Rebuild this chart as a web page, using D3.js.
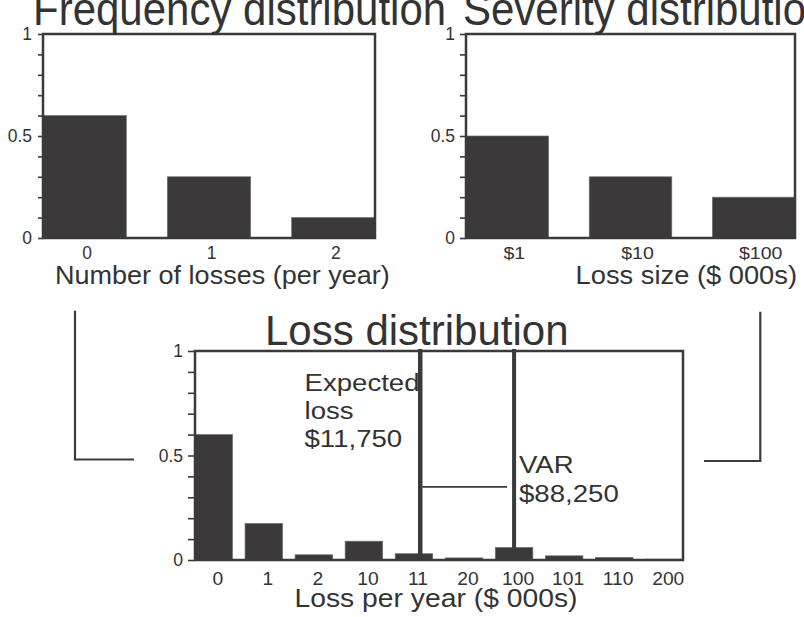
<!DOCTYPE html>
<html>
<head>
<meta charset="utf-8">
<script src="https://cdn.jsdelivr.net/npm/d3@7"></script>
<style>
  html, body { margin: 0; padding: 0; background: #fff; }
  svg { display: block; }
  text { font-family: "Liberation Sans", Arial, Helvetica, sans-serif; fill: #333; }
</style>
</head>
<body>
<svg id="chart" width="804" height="617"></svg>
<script>
// ---- data ----
const freqCats = ["0", "1", "2"];
const freqVals = [0.6, 0.3, 0.1];
const sevCats = ["$1", "$10", "$100"];
const sevVals = [0.5, 0.3, 0.2];
const lossCats = ["0", "1", "2", "10", "11", "20", "100", "101", "110", "200"];
const lossVals = [0.6, 0.175, 0.025, 0.09, 0.03, 0.01, 0.06, 0.02, 0.012, 0.004];
const yTickValues = [0, 0.1, 0.2, 0.3, 0.4, 0.5, 0.6, 0.7, 0.8, 0.9, 1];
const yTickLabels = {0: "0", 0.5: "0.5", 1: "1"};
const titles = ["Frequency distribution", "Severity distribution", "Loss distribution"];
const xTitles = ["Number of losses (per year)", "Loss size ($ 000s)", "Loss per year ($ 000s)"];
const expectedLabel = ["Expected", "loss", "$11,750"];
const varLabel = ["VAR", "$88,250"];
const expectedCat = "11";
const varCat = "100";

const INK = "#3a3a3a";
const BAR = "#3b393a";
const svg = d3.select("#chart");

function label(x, y, str, size, sx, anchor, sy) {
  return svg.append("text")
    .attr("transform", `translate(${x},${y}) scale(${sx},${sy || 1})`)
    .attr("text-anchor", anchor || "start")
    .style("font-size", size + "px")
    .text(str);
}

function panel(cfg) {
  const x = d3.scaleBand().domain(cfg.cats).range([cfg.left, cfg.right])
    .paddingInner(cfg.pad).paddingOuter(0);
  const y = d3.scaleLinear().domain([0, 1]).range([cfg.bottom, cfg.top]);

  // bars
  svg.append("g").selectAll("rect").data(cfg.vals).join("rect")
    .attr("x", (d, i) => x(cfg.cats[i]))
    .attr("y", d => y(d))
    .attr("width", x.bandwidth())
    .attr("height", d => y(0) - y(d))
    .attr("fill", BAR)
    .attr("stroke", "#6e6e6e")
    .attr("stroke-width", 0.7);

  // y axis
  const ax = svg.append("g")
    .attr("transform", `translate(${cfg.left},0)`)
    .call(d3.axisLeft(y).tickValues(yTickValues)
      .tickSize(cfg.tick).tickPadding(cfg.tickPad)
      .tickFormat(d => yTickLabels[d] !== undefined ? yTickLabels[d] : ""));
  ax.select(".domain").remove();
  ax.selectAll(".tick line").attr("stroke", INK).attr("stroke-width", 1.6);
  ax.selectAll(".tick text").attr("fill", "#333")
    .style("font-size", "17.5px")
    .style("font-family", '"Liberation Sans", Arial, Helvetica, sans-serif');

  // frame
  svg.append("rect")
    .attr("x", cfg.left).attr("y", cfg.top)
    .attr("width", cfg.right - cfg.left).attr("height", cfg.bottom - cfg.top)
    .attr("fill", "none").attr("stroke", INK).attr("stroke-width", 2.5);

  // x tick labels
  cfg.cats.forEach(c => {
    label(x(c) + x.bandwidth() / 2 + cfg.xdx, cfg.xLabelY, c, cfg.xSize, cfg.xsx, "middle");
  });
  return {x, y};
}

const A = panel({cats: freqCats, vals: freqVals, left: 43, right: 375, top: 34, bottom: 238,
  pad: 0.33, tick: 5, tickPad: 6, xdx: 2.5, xLabelY: 259, xSize: 17.5, xsx: 1});
const B = panel({cats: sevCats, vals: sevVals, left: 466, right: 795, top: 34, bottom: 238,
  pad: 0.33, tick: 6, tickPad: 5, xdx: 7, xLabelY: 259, xSize: 17, xsx: 1.15});
const C = panel({cats: lossCats, vals: lossVals, left: 195, right: 683, top: 351, bottom: 560,
  pad: 0.25, tick: 7, tickPad: 5, xdx: 4, xLabelY: 585, xSize: 17.5, xsx: 1.1});

// titles
label(33, 24.5, titles[0], 42, 1, "start", 1.12);
label(463, 24.5, titles[1], 42, 1, "start", 1.12);
label(265, 345, titles[2], 42, 1);

// axis titles
label(55, 284, xTitles[0], 26.5, 1.02);
label(797, 284, xTitles[1], 26.5, 1.03, "end");
label(294.5, 607, xTitles[2], 25.5, 1.11);

// expected loss & VAR lines
const xE = C.x(expectedCat) + C.x.step() / 2;
const xV = C.x(varCat) + C.x.bandwidth() / 2;
[[xE, 4.5], [xV, 4]].forEach(([xx, w]) => {
  svg.append("line")
    .attr("x1", xx).attr("x2", xx)
    .attr("y1", C.y(1) - 2).attr("y2", C.y(0))
    .attr("stroke", INK).attr("stroke-width", w);
});
svg.append("line")
  .attr("x1", xE + 2).attr("x2", xV - 7)
  .attr("y1", C.y(0.35)).attr("y2", C.y(0.35))
  .attr("stroke", INK).attr("stroke-width", 1.6);

expectedLabel.forEach((s, i) => label(304.5, 390.5 + i * 28.2, s, 24, 1.15));
varLabel.forEach((s, i) => label(519, 472.7 + i * 29, s, 24, 1.15));

// connector brackets
svg.append("path")
  .attr("d", "M75,310.7 V459.5 H134")
  .attr("fill", "none").attr("stroke", INK).attr("stroke-width", 2.2);
svg.append("path")
  .attr("d", "M760.3,311.7 V461 H704")
  .attr("fill", "none").attr("stroke", INK).attr("stroke-width", 2.2);
</script>
</body>
</html>
